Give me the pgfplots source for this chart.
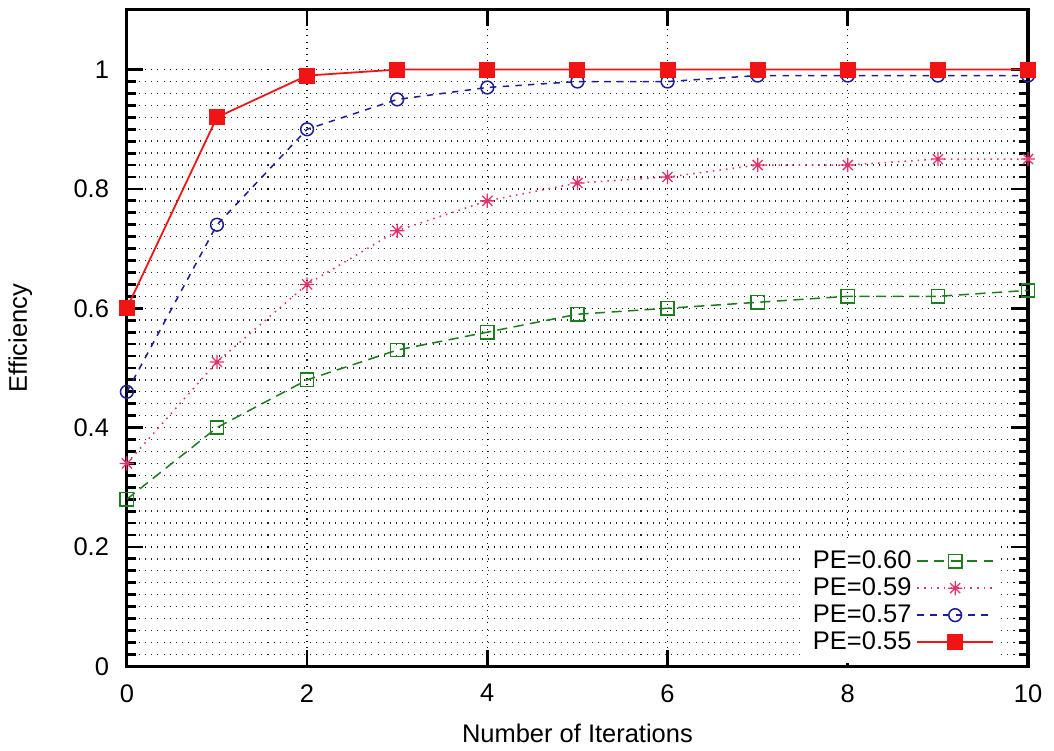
\documentclass[border=0pt]{standalone}
\usepackage{fontspec}
\setmainfont{Liberation Sans}
\usepackage{pgfplots}
\pgfplotsset{compat=1.18}

\definecolor{pegreen}{RGB}{30,125,30}
\definecolor{pepink}{RGB}{225,50,105}
\definecolor{peblue}{RGB}{30,30,150}
\definecolor{pered}{RGB}{240,20,20}

% gnuplot style "*" point: plus and cross together
\pgfdeclareplotmark{gpstar}{%
  \pgfpathmoveto{\pgfqpoint{-\pgfplotmarksize}{0pt}}%
  \pgfpathlineto{\pgfqpoint{\pgfplotmarksize}{0pt}}%
  \pgfpathmoveto{\pgfqpoint{0pt}{-\pgfplotmarksize}}%
  \pgfpathlineto{\pgfqpoint{0pt}{\pgfplotmarksize}}%
  \pgfpathmoveto{\pgfqpoint{-.707\pgfplotmarksize}{-.707\pgfplotmarksize}}%
  \pgfpathlineto{\pgfqpoint{.707\pgfplotmarksize}{.707\pgfplotmarksize}}%
  \pgfpathmoveto{\pgfqpoint{-.707\pgfplotmarksize}{.707\pgfplotmarksize}}%
  \pgfpathlineto{\pgfqpoint{.707\pgfplotmarksize}{-.707\pgfplotmarksize}}%
  \pgfusepathqstroke}

\begin{document}
\begin{tikzpicture}
\begin{axis}[
  width=353.7pt, height=257.6pt, scale only axis,
  xmin=0, xmax=10, ymin=0, ymax=1.1,
  xtick={0,2,...,10}, ytick={0,0.2,...,1},
  minor y tick num=9,
  xmajorgrids, ymajorgrids, yminorgrids,
  major grid style={black, dotted, line width=0.55pt},
  minor grid style={black!85, dotted, line width=0.55pt},
  tick align=inside,
  major tick length=6.5pt, minor tick length=3.5pt,
  every tick/.style={black, line width=1.1pt},
  axis line style={line width=1.2pt},
  tick label style={font=\fontsize{10}{12}\selectfont},
  label style={font=\fontsize{10}{12}\selectfont},
  xticklabel style={yshift=-3.6pt},
  yticklabel style={xshift=-3.5pt},
  /pgf/number format/assume math mode=true,
  xlabel={Number of Iterations}, ylabel={Efficiency},
  every axis x label/.style={at={(axis description cs:0.5,0)}, anchor=base, yshift=-29.8pt},
  every axis y label/.style={at={([xshift=-33.6pt]axis description cs:0,0.5)}, rotate=90, anchor=south},
  clip mode=individual,
  legend plot pos=right,
  legend cell align=right,
  legend style={draw=none, fill=white, at={(0.971,0.004)}, anchor=south east,
    font=\fontsize{10}{11}\selectfont, row sep=-1.9pt, inner xsep=3pt},
  legend image code/.code={%
    \draw[mark repeat=2, mark phase=2] plot coordinates {(0cm,0cm) (0.52cm,0cm) (1.04cm,0cm)};},
]
\coordinate (tr) at (rel axis cs:1,1);
\addplot[pegreen, dash pattern=on 4pt off 2.5pt, line width=0.6pt, mark=square, mark size=2.6pt, mark options={solid, line width=0.6pt}]
  coordinates {(0,0.28) (1,0.40) (2,0.48) (3,0.53) (4,0.56) (5,0.59) (6,0.60) (7,0.61) (8,0.62) (9,0.62) (10,0.63)};
\addlegendentry{PE=0.60}
\addplot[pepink, dotted, line width=0.6pt, mark=gpstar, mark size=2.8pt, mark options={solid, line width=0.5pt}]
  coordinates {(0,0.34) (1,0.51) (2,0.64) (3,0.73) (4,0.78) (5,0.81) (6,0.82) (7,0.84) (8,0.84) (9,0.85) (10,0.85)};
\addlegendentry{PE=0.59}
\addplot[peblue, dash pattern=on 2.5pt off 2.5pt, line width=0.6pt, mark=o, mark size=2.5pt, mark options={solid, line width=0.6pt}]
  coordinates {(0,0.46) (1,0.74) (2,0.90) (3,0.95) (4,0.97) (5,0.98) (6,0.98) (7,0.99) (8,0.99) (9,0.99) (10,0.99)};
\addlegendentry{PE=0.57}
\addplot[pered, solid, line width=0.7pt, mark=square*, mark size=2.8pt, mark options={solid, fill=pered, draw=pered}]
  coordinates {(0,0.60) (1,0.92) (2,0.99) (3,1.0) (4,1.0) (5,1.0) (6,1.0) (7,1.0) (8,1.0) (9,1.0) (10,1.0)};
\addlegendentry{PE=0.55}
\end{axis}
\path (tr) ++(10.2pt,3.9pt);
\end{tikzpicture}
\end{document}
